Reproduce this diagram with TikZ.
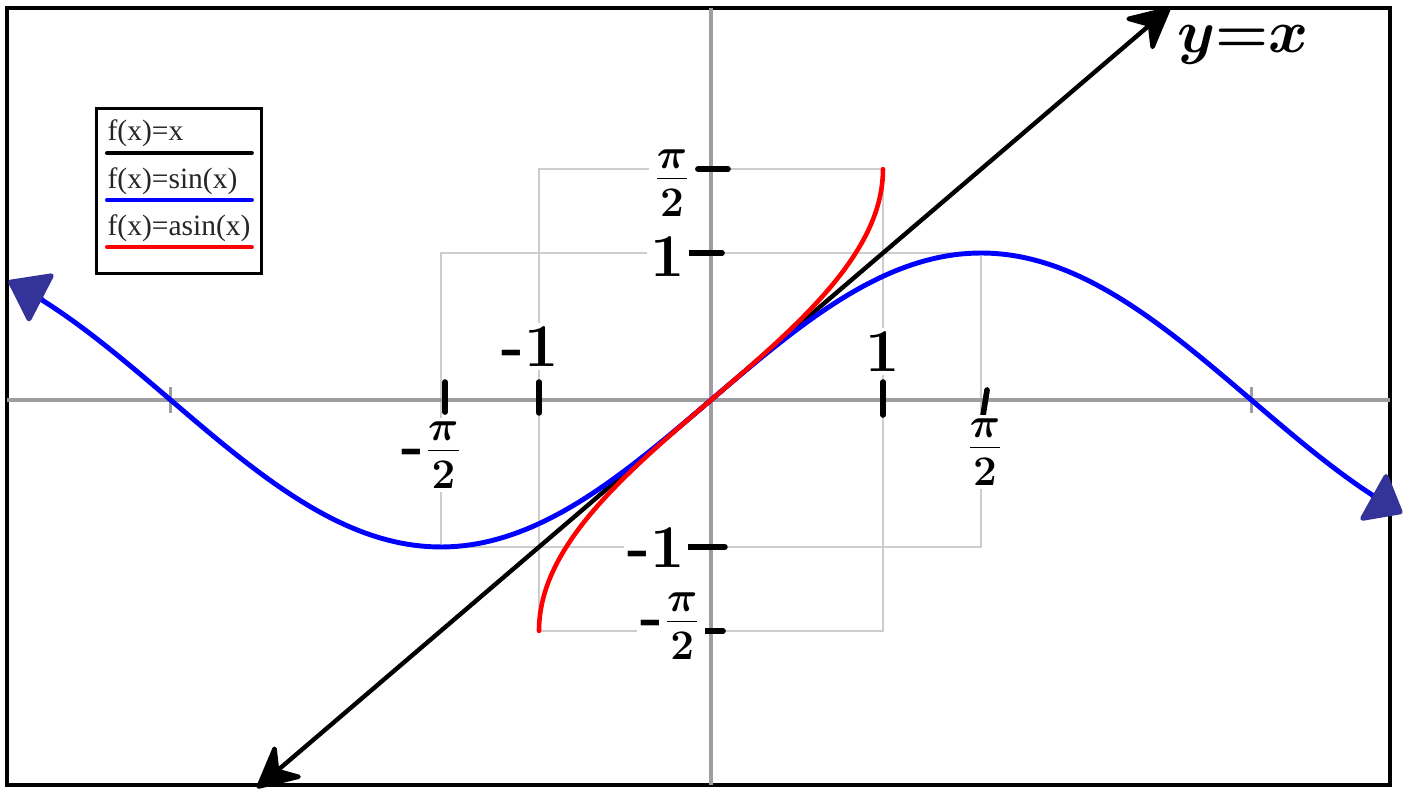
\documentclass[tikz,border=0pt]{standalone}
\usepackage{fontspec}
\newfontfamily\legendfont{Liberation Serif}
\usetikzlibrary{arrows.meta}
\definecolor{arrowblue}{RGB}{51,51,153}
\definecolor{axisgray}{RGB}{158,158,162}
\definecolor{guidegray}{RGB}{205,205,205}

\begin{document}
\begin{tikzpicture}[x=1.72cm, y=1.47cm, line cap=round,
    axisline/.style={axisgray, line width=1pt, line cap=butt},
    guideline/.style={guidegray, line width=0.45pt},
    handtick/.style={line width=1.6pt, line cap=round},
    ticklabel/.style={fill=white, inner sep=1pt, font=\LARGE\bfseries\boldmath},
    legendtext/.style={anchor=base west, inner sep=0pt, text=black!85,
      font=\legendfont\fontsize{8.4}{10}\selectfont},
    sinetipleft/.tip={Triangle[length=4mm, width=5.7mm, round, color=arrowblue]},
    sinetipright/.tip={Triangle[length=3.6mm, width=5.7mm, round, color=arrowblue]},
    linetip/.tip={Stealth[length=4.8mm, width=4.8mm, inset=1.6mm, round]}]
    \useasboundingbox (-4.1337,-2.6599) rectangle (4.0698,2.7211);

    % 1. frame
    \draw[line width=1.2pt] (-4.093,-2.619) rectangle (3.948,2.667);

    % 2. guide boxes and axes
    \draw[guideline] (-pi/2,-1) rectangle (pi/2,1);
    \draw[guideline] (-1,-pi/2) rectangle (1,pi/2);
    \draw[axisline] (-4.093,0) -- (3.948,0);
    \draw[axisline] (0,-2.619) -- (0,2.667);
    \draw[axisline] (-pi,-0.088) -- (-pi,0.088);
    \draw[axisline] (pi,-0.088) -- (pi,0.088);

    % 3. curves
    \coordinate (lowend) at (-2.64,-2.64);
    \coordinate (highend) at (2.67,2.67);
    \draw[line width=1.25pt, linetip-linetip] (lowend) -- (highend);
    \draw[blue, line width=1.4pt, samples=200, domain=-4.085:4.02,
      sinetipleft-sinetipright] plot (\x, {sin(\x r)});
    \draw[red, line width=1.3pt, samples=120, domain=-pi/2:pi/2] plot ({sin(\x r)}, \x);

    % 4. hand ticks
    \draw[handtick] (-1.5465,0.122) -- (-1.5465,-0.082);
    \draw[handtick] (-1,0.122) -- (-1,-0.088);
    \draw[handtick] (1,0.122) -- (1,-0.102);
    \draw[handtick] (1.605,0.068) -- (1.582,-0.102);
    \draw[handtick] (-0.076,pi/2) -- (0.099,pi/2);
    \draw[handtick] (-0.134,1) -- (0.064,1);
    \draw[handtick] (-0.134,-1) -- (0.081,-1);
    \draw[handtick] (-0.064,-pi/2) -- (0.07,-pi/2);

    % 5. tick labels
    \node[ticklabel] (xmone) at (-1.052,0.361) {-1};
    \node[ticklabel] (xpone) at (1.0,0.327) {1};
    \node[ticklabel] (xmhalfpi) at (-1.622,-0.374) {-$\frac{\pi}{2}$};
    \node[ticklabel] (xphalfpi) at (1.593,-0.354) {$\frac{\pi}{2}$};
    \node[ticklabel] (yphalfpi) at (-0.227,1.476) {$\frac{\pi}{2}$};
    \node[ticklabel] (ypone) at (-0.25,0.973) {1};
    \node[ticklabel] (ymone) at (-0.32,-1.007) {-1};
    \node[ticklabel] (ymhalfpi) at (-0.233,-1.537) {-$\frac{\pi}{2}$};
    \node[font=\LARGE\boldmath] (yxlabel) at (3.093,2.415) {$y{=}x$};

    % 6. legend
    \node[draw, line width=0.9pt, inner sep=0pt, anchor=north west,
      minimum width=1.65cm, minimum height=1.65cm] (legend) at (-3.581,1.993) {};
    \foreach \fn/\col [count=\i] in {{f(x)=x}/black, {f(x)=sin(x)}/blue, {f(x)=asin(x)}/red} {
      \node[legendtext] (entry\i) at (-3.512, {1.762-0.32*(\i-1)}) {\fn};
      \draw[\col, line width=1.1pt] (-3.512, {1.680-0.32*(\i-1)}) -- (-2.669, {1.680-0.32*(\i-1)});
    }
\end{tikzpicture}
\end{document}
